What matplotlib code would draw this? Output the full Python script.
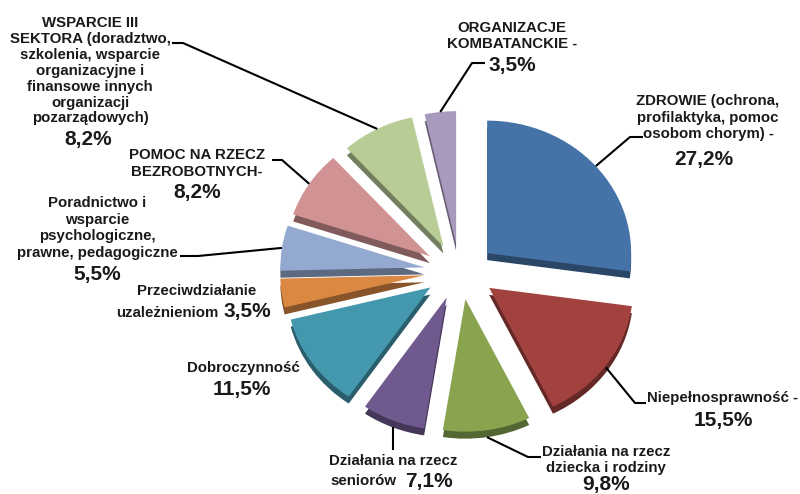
import matplotlib
matplotlib.use('Agg')
import matplotlib.pyplot as plt
from matplotlib.patches import Wedge
import matplotlib.colors as mcolors
import numpy as np

# ---------------- data ----------------
categories = ["ZDROWIE", "Niepełnosprawność", "Działania na rzecz dziecka i rodziny",
              "Działania na rzecz seniorów", "Dobroczynność", "Przeciwdziałanie uzależnieniom",
              "Poradnictwo i wsparcie", "Pomoc na rzecz bezrobotnych",
              "Wsparcie III sektora", "Organizacje kombatanckie"]
values = [27.2, 15.5, 9.8, 7.1, 11.5, 3.5, 5.5, 8.2, 8.2, 3.5]
pct_labels = ["27,2%", "15,5%", "9,8%", "7,1%", "11,5%", "3,5%", "5,5%", "8,2%", "8,2%", "3,5%"]
label_lines = [
    ["ZDROWIE (ochrona,", "profilaktyka, pomoc", "osobom chorym) -"],
    ["Niepełnosprawność -"],
    ["Działania na rzecz", "dziecka i rodziny"],
    ["Działania na rzecz", "seniorów"],
    ["Dobroczynność"],
    ["Przeciwdziałanie", "uzależnieniom"],
    ["Poradnictwo i", "wsparcie", "psychologiczne,", "prawne, pedagogiczne"],
    ["POMOC NA RZECZ", "BEZROBOTNYCH-"],
    ["WSPARCIE III", "SEKTORA (doradztwo,", "szkolenia, wsparcie", "organizacyjne i",
     "finansowe innych", "organizacji", "pozarządowych)"],
    ["ORGANIZACJE", "KOMBATANCKIE -"],
]
colors = ['#4572A7', '#A2423F', '#88A44F', '#6F598E', '#4398AE',
          '#DB8843', '#94A9D0', '#D09292', '#B8CC96', '#A89ABD']

# ---------------- layout ----------------
W, H = 800, 494
K = 0.92            # vertical squash of the tilted pie
R = 144             # pie radius (px)
CX, CY = 460, 271.5 # pie centre (px)
EXP_X, EXP_Y = 36, 28
THICK = 7

fig = plt.figure(figsize=(8, 4.94), dpi=100)
axp = fig.add_axes([0, 0, 1, 1])
wedges, _ = axp.pie(values, colors=colors, startangle=-90, counterclock=True,
                    radius=R, center=(CX, CY / K),
                    wedgeprops=dict(linewidth=0, zorder=3))
axp.set_xlim(0, W)
axp.set_ylim(H / K, 0)
axp.set_aspect('auto')
axp.axis('off')

mids = []
for w, col in zip(wedges, colors):
    mid = np.deg2rad((w.theta1 + w.theta2) / 2)
    mids.append(mid)
    c = (CX + EXP_X * np.cos(mid), CY / K + (EXP_Y / K) * np.sin(mid))
    w.set_center(c)
    dark = tuple(np.array(mcolors.to_rgb(col)) * 0.62)
    sh = Wedge((c[0], c[1] + THICK / K), w.r, w.theta1, w.theta2,
               facecolor=dark, linewidth=0, zorder=2)
    axp.add_patch(sh)

# text / leader axes in pixel coordinates
axt = fig.add_axes([0, 0, 1, 1])
axt.set_xlim(0, W)
axt.set_ylim(H, 0)
axt.axis('off')
axt.patch.set_alpha(0)

FONT = 'Liberation Sans'
LFS = 10.8
PFS = 15


def anchor(i, extra=0.0, rf=1.0):
    w = wedges[i]
    cx, cy = w.center
    m = mids[i]
    return cx + R * rf * np.cos(m), (cy + R * rf * np.sin(m)) * K + extra


def block(lines, x, y0, dy=16.5, ha='center'):
    for k, t in enumerate(lines):
        axt.text(x, y0 + k * dy, t, fontsize=LFS, fontweight='bold', family=FONT,
                 ha=ha, va='center', color='#1a1a1a')


def pct(t, x, y, ha='center'):
    axt.text(x, y, t, fontsize=PFS, fontweight='bold', family=FONT,
             ha=ha, va='center', color='#1a1a1a')


def leader(i, pts, extra=0.0):
    ax0, ay0 = anchor(i, extra)
    xs = [ax0] + [p[0] for p in pts]
    ys = [ay0] + [p[1] for p in pts]
    axt.plot(xs, ys, color='black', lw=1.5, solid_capstyle='butt', zorder=5)


# ZDROWIE
block(label_lines[0], 708, 101)
pct(pct_labels[0], 704, 159)
leader(0, [(630, 137), (643, 137)])
# Niepelnosprawnosc
block(label_lines[1], 647, 398, ha='left')
pct(pct_labels[1], 723, 420)
leader(1, [(635, 403), (646, 403)], extra=2)
# dziecko
block(label_lines[2], 606, 452, dy=16)
pct(pct_labels[2], 606, 484)
leader(2, [(528, 457), (541, 457)], extra=THICK)
# seniorzy
block(label_lines[3][:1], 393, 461)
block(label_lines[3][1:], 363, 481)
pct(pct_labels[3], 429, 481)
sx, sy = anchor(3, THICK)
axt.plot([sx, sx], [sy, 449], color='black', lw=1.5, zorder=5)
# dobroczynnosc
block(label_lines[4], 243, 368)
pct(pct_labels[4], 242, 389)
# przeciwdzialanie
block(label_lines[5][:1], 197, 291)
block(label_lines[5][1:], 167, 313)
pct(pct_labels[5], 247, 311)
# poradnictwo
block(label_lines[6], 97, 203)
pct(pct_labels[6], 97, 274)
leader(6, [(198, 256), (180, 256)])
# pomoc bezrobotnym
block(label_lines[7], 197, 155)
pct(pct_labels[7], 197, 192)
leader(7, [(282, 160), (272, 160)])
# wsparcie III sektora
block(label_lines[8], 90, 23, dy=15.9)
pct(pct_labels[8], 88, 139)
leader(8, [(183, 43), (172, 43)])
# organizacje kombatanckie
block(label_lines[9], 512, 28, dy=16)
pct(pct_labels[9], 512, 65)
leader(9, [(472, 63), (485, 63)])

fig.savefig('out.png', dpi=100)
